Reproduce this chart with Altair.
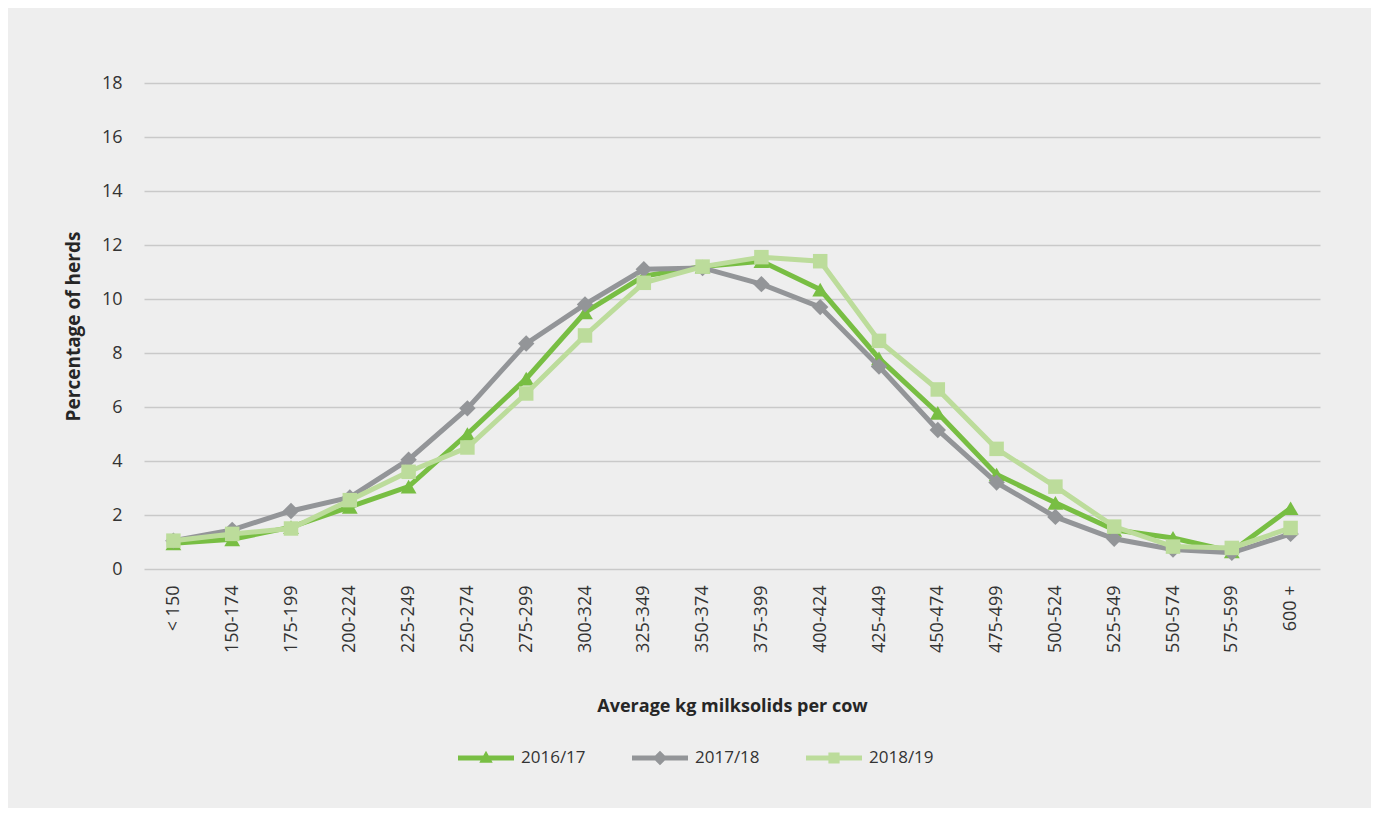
import altair as alt
import pandas as pd

categories = ["< 150", "150-174", "175-199", "200-224", "225-249", "250-274",
              "275-299", "300-324", "325-349", "350-374", "375-399", "400-424",
              "425-449", "450-474", "475-499", "500-524", "525-549", "550-574",
              "575-599", "600 +"]
series_names = ["2016/17", "2017/18", "2018/19"]
s_2016 = [0.95, 1.1, 1.55, 2.3, 3.05, 5.0, 7.05, 9.5, 10.85, 11.2, 11.4, 10.35,
          7.8, 5.78, 3.5, 2.45, 1.45, 1.15, 0.65, 2.25]
s_2017 = [1.05, 1.45, 2.15, 2.65, 4.05, 5.95, 8.35, 9.8, 11.1, 11.15, 10.55, 9.7,
          7.5, 5.15, 3.2, 1.93, 1.12, 0.72, 0.6, 1.3]
s_2018 = [1.05, 1.3, 1.5, 2.55, 3.6, 4.5, 6.5, 8.65, 10.6, 11.2, 11.55, 11.4,
          8.45, 6.65, 4.45, 3.05, 1.57, 0.83, 0.78, 1.52]
colors = ["#78BE43", "#939598", "#BCDC9B"]
marker_shapes = ["triangle-up", "diamond", "square"]
legend_paths = [
    "M-1,-0.09L1,-0.09L1,0.09L-1,0.09Z M0,-0.26L0.24,0.17L-0.24,0.17Z",
    "M-1,-0.09L1,-0.09L1,0.09L-1,0.09Z M0,-0.26L0.26,0L0,0.26L-0.26,0Z",
    "M-1,-0.09L1,-0.09L1,0.09L-1,0.09Z M-0.2,-0.2L0.2,-0.2L0.2,0.2L-0.2,0.2Z",
]

rows = []
for name, vals in zip(series_names, [s_2016, s_2017, s_2018]):
    for c, v in zip(categories, vals):
        rows.append({"cat": c, "series": name, "value": v})
df = pd.DataFrame(rows)

FONT = "Open Sans"

x_enc = alt.X("cat:N", sort=categories,
              scale=alt.Scale(domain=categories),
              axis=alt.Axis(title="Average kg milksolids per cow", labelAngle=270,
                            labelFontSize=18, labelColor="#333333", labelFont=FONT,
                            labelPadding=16, ticks=False, tickSize=0, domain=False,
                            grid=False, titleFontSize=18, titleFontWeight="bold",
                            titleColor="#262626", titleFont=FONT, titleY=137,
                            titleBaseline="middle"))
y_enc = alt.Y("value:Q", scale=alt.Scale(domain=[0, 18]),
              axis=alt.Axis(title="Percentage of herds", values=list(range(0, 19, 2)),
                            labelFontSize=18, labelColor="#333333", labelFont=FONT,
                            labelPadding=22, ticks=False, tickSize=0, domain=False,
                            grid=True, gridColor="#C9C9C9", gridWidth=1.5,
                            titleFontSize=19, titleFontWeight="bold",
                            titleColor="#262626", titleFont=FONT,
                            titleX=-71, titleY=243, titleBaseline="middle"))
color_enc = alt.Color("series:N", scale=alt.Scale(domain=series_names, range=colors),
                      title=None)

layers = []
for name, shp, sz in zip(series_names, marker_shapes, [250, 270, 210]):
    base = alt.Chart(df).transform_filter(alt.datum.series == name)
    layers.append(base.mark_line(strokeWidth=5).encode(x=x_enc, y=y_enc, color=color_enc))
    layers.append(base.mark_point(filled=True, shape=shp, size=sz, opacity=1)
                  .encode(x=x_enc, y=y_enc, color=color_enc))

legend_layer = (alt.Chart(df).transform_filter("datum.value < 0")
                .mark_point(filled=True, opacity=1)
                .encode(x=x_enc, y=y_enc, color=color_enc,
                        shape=alt.Shape("series:N",
                                        scale=alt.Scale(domain=series_names, range=legend_paths),
                                        title=None)))
layers.append(legend_layer)

chart = (alt.layer(*layers)
         .properties(width=1176, height=486, background="#EEEEEE",
                     padding={"left": 136, "top": 75, "right": 51, "bottom": 239},
                     autosize="none")
         .configure_view(stroke="transparent")
         .configure_legend(orient="none", legendX=314, legendY=647, direction="horizontal",
                           symbolSize=3136, symbolStrokeWidth=0, labelFontSize=17,
                           labelFont=FONT, labelColor="#333333", labelOffset=7,
                           columnPadding=46, padding=0, symbolOpacity=1))

chart.save("out.html", embed_options={"renderer": "svg", "actions": False})
